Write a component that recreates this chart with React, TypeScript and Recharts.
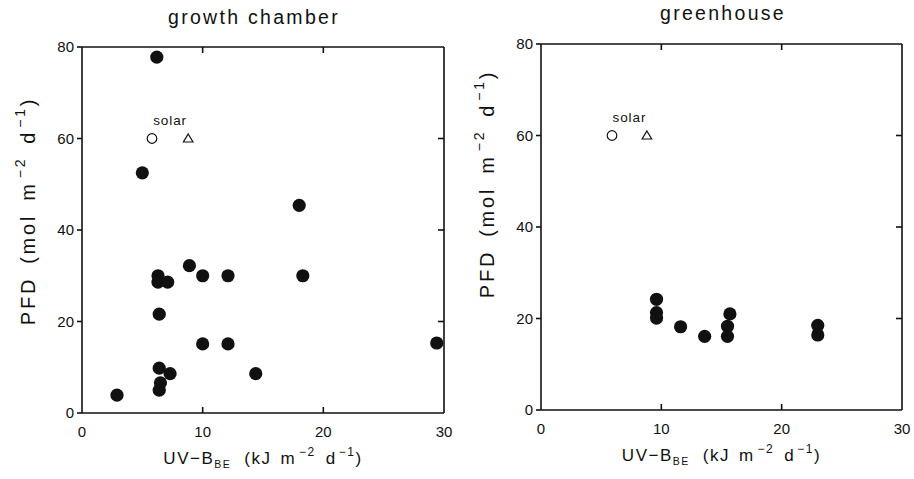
import React from 'react';
import { ScatterChart, Scatter, XAxis, YAxis } from 'recharts';

// growth chamber measurements
const growthUv = [6.2, 5.0, 18.0, 8.9, 6.3, 6.3, 7.1, 10.0, 12.1, 18.3, 6.4, 10.0, 12.1, 29.4, 6.4, 7.3, 14.4, 6.5, 6.4, 2.9];
const growthPfd = [77.8, 52.5, 45.4, 32.2, 30.0, 28.6, 28.6, 30.0, 30.0, 30.0, 21.6, 15.1, 15.1, 15.3, 9.8, 8.6, 8.6, 6.6, 5.0, 3.9];

// greenhouse measurements
const houseUv = [9.6, 9.6, 9.6, 11.6, 13.6, 15.5, 15.5, 15.7, 23.0, 23.0];
const housePfd = [24.2, 21.3, 20.1, 18.2, 16.1, 18.3, 16.1, 21.0, 18.5, 16.4];

// solar reference (circle, triangle)
const solarGrowthUv = [5.8, 8.8];
const solarHouseUv = [5.9, 8.8];
const solarPfd = [60, 60];

const xTicks = [0, 10, 20, 30];
const yTicks = [0, 20, 40, 60, 80];
const innerXTicks = [10, 20];
const innerYTicks = [20, 40, 60];

const FONT = '"Liberation Sans", Arial, Helvetica, sans-serif';
const INK = '#111';

const toPoints = (xs: number[], ys: number[]) => xs.map((x, i) => ({ x, y: ys[i] }));

const Dot = (p: any) => <circle cx={p.cx} cy={p.cy} r={6.6} fill={INK} />;
const OpenDot = (p: any) => <circle cx={p.cx} cy={p.cy} r={4.8} fill="#fff" stroke={INK} strokeWidth={1.2} />;
const Tri = (p: any) => (
    <path d={`M${p.cx},${p.cy - 4.5} L${p.cx + 4.8},${p.cy + 3.5} L${p.cx - 4.8},${p.cy + 3.5} Z`} fill="#fff" stroke={INK} strokeWidth={1.2} />
);
const SolarText = (p: any) => (
    <text x={p.cx} y={p.cy - 14} textAnchor="middle" fontSize={13.5} fontFamily={FONT} fill={INK} letterSpacing={0.9}>solar</text>
);
const Empty = () => <g />;

const tickStyle = { fontSize: 15, fill: INK, fontFamily: FONT };

const YLabel = ({ viewBox, shift }: any) => {
    const x = viewBox.x - 7;
    const y = viewBox.y + viewBox.height / 2 + shift;
    return (
        <text x={x} y={y} transform={`rotate(-90, ${x}, ${y})`} textAnchor="middle" fontSize={20} fontFamily={FONT} fill={INK} letterSpacing={2.8}>
            <tspan>PFD</tspan>
            <tspan dx={13}>(mol</tspan>
            <tspan dx={13}>m</tspan>
            <tspan dx={3} dy={-10} fontSize={14}>−2</tspan>
            <tspan dx={13} dy={10}>d</tspan>
            <tspan dx={2} dy={-10} fontSize={14}>−1</tspan>
            <tspan dy={10}>)</tspan>
        </text>
    );
};

const XLabel = ({ viewBox }: any) => {
    const x = viewBox.x + viewBox.width / 2;
    const y = viewBox.y + 51;
    return (
        <text x={x} y={y} textAnchor="middle" fontSize={17} fontFamily={FONT} fill={INK} letterSpacing={1.5}>
            <tspan>UV−B</tspan>
            <tspan dy={4} fontSize={10.5}>BE</tspan>
            <tspan dx={13} dy={-4}>(kJ</tspan>
            <tspan dx={9}>m</tspan>
            <tspan dx={3} dy={-8} fontSize={12}>−2</tspan>
            <tspan dx={10} dy={8}>d</tspan>
            <tspan dx={2} dy={-8} fontSize={12}>−1</tspan>
            <tspan dy={8}>)</tspan>
        </text>
    );
};

interface PanelProps {
    title: string;
    data: { x: number; y: number }[];
    solarUv: number[];
    width: number;
    margin: { top: number; right: number; bottom: number; left: number };
    labelShift: number;
    titleY: number;
    titleX: number;
}

const Panel: React.FC<PanelProps> = ({ title, data, solarUv, width, margin, labelShift, titleY, titleX }) => {
    const solarCircle = [{ x: solarUv[0], y: solarPfd[0] }];
    const solarTri = [{ x: solarUv[1], y: solarPfd[1] }];
    const solarLabel = [{ x: (solarUv[0] + solarUv[1]) / 2, y: solarPfd[0] }];
    const axis = { stroke: INK, strokeWidth: 1.6 };
    return (
        <div style={{ position: 'relative', width, height: 479 }}>
            <div style={{
                position: 'absolute', top: titleY, left: titleX - 150, width: 300, textAlign: 'center',
                fontFamily: FONT, fontSize: 19.5, letterSpacing: 2.3, color: INK,
            }}>{title}</div>
            <ScatterChart width={width} height={479} margin={margin}>
                <XAxis xAxisId="b" dataKey="x" type="number" domain={[0, 30]} ticks={xTicks} tickLine={false}
                    axisLine={axis} tick={tickStyle} tickMargin={7} height={30} label={<XLabel />} />
                <XAxis xAxisId="bi" dataKey="x" type="number" domain={[0, 30]} ticks={innerXTicks} mirror
                    axisLine={false} tickLine={axis} tickSize={6} tick={Empty} />
                <XAxis xAxisId="t" orientation="top" dataKey="x" type="number" domain={[0, 30]} ticks={innerXTicks} mirror
                    axisLine={axis} tickLine={axis} tickSize={6} tick={Empty} />
                <YAxis yAxisId="l" dataKey="y" type="number" domain={[0, 80]} ticks={yTicks} width={40}
                    axisLine={axis} tickLine={axis} tickSize={5} tick={tickStyle} tickMargin={3}
                    label={<YLabel shift={labelShift} />} />
                <YAxis yAxisId="r" orientation="right" dataKey="y" type="number" domain={[0, 80]} ticks={innerYTicks} mirror
                    axisLine={axis} tickLine={axis} tickSize={6} tick={Empty} />
                <Scatter xAxisId="bi" yAxisId="r" data={data} shape={Empty} isAnimationActive={false} />
                <Scatter xAxisId="t" yAxisId="r" data={data} shape={Empty} isAnimationActive={false} />
                <Scatter xAxisId="b" yAxisId="l" data={data} shape={Dot} isAnimationActive={false} />
                <Scatter xAxisId="b" yAxisId="l" data={solarCircle} shape={OpenDot} isAnimationActive={false} />
                <Scatter xAxisId="b" yAxisId="l" data={solarTri} shape={Tri} isAnimationActive={false} />
                <Scatter xAxisId="b" yAxisId="l" data={solarLabel} shape={SolarText} isAnimationActive={false} />
            </ScatterChart>
        </div>
    );
};

export default function App() {
    return (
        <div style={{ position: 'fixed', left: 0, top: 0, width: 914, height: 479, background: '#fff', display: 'flex' }}>
            <Panel title="growth chamber" data={toPoints(growthUv, growthPfd)} solarUv={solarGrowthUv} width={460}
                margin={{ top: 47, right: 16, bottom: 36, left: 42 }} labelShift={-19} titleY={6} titleX={254} />
            <Panel title="greenhouse" data={toPoints(houseUv, housePfd)} solarUv={solarHouseUv} width={454}
                margin={{ top: 44, right: 12, bottom: 39, left: 41 }} labelShift={-43} titleY={2} titleX={263} />
        </div>
    );
}
